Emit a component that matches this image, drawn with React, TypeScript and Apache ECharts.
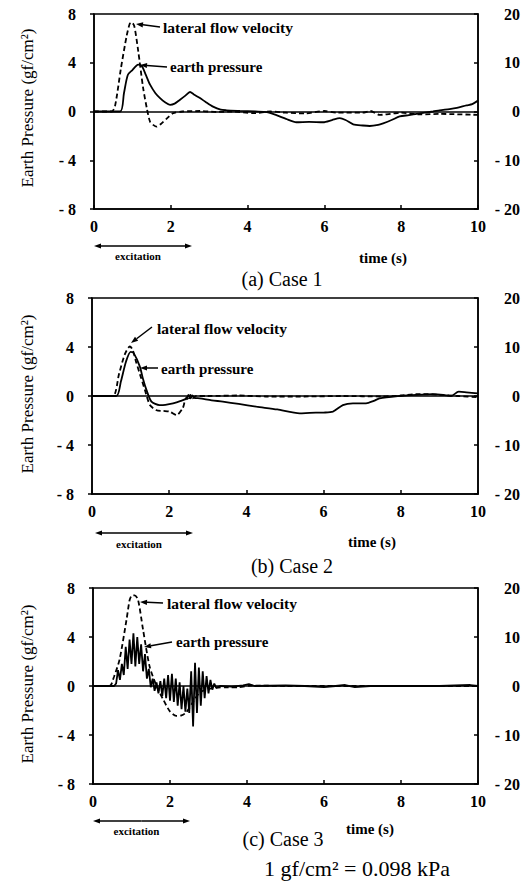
import React, { useEffect, useRef } from "react";
import * as echarts from "echarts";

// ---- axis ticks ----
const timeTicks = [0, 2, 4, 6, 8, 10];
const pressureTicks = [-8, -4, 0, 4, 8];
const velocityTicks = [-20, -10, 0, 10, 20];

// ---- Case 1 ----  [time (s), earth pressure (gf/cm2)]
const case1Pressure = [
  [0, 0], [0.68, 0], [0.78, 1.5], [0.88, 3.0], [1.0, 3.4], [1.15, 3.85], [1.25, 3.7], [1.35, 3.0],
  [1.46, 2.2], [1.6, 1.5], [1.72, 1.1], [1.85, 0.75], [1.98, 0.55], [2.1, 0.65], [2.24, 0.97],
  [2.38, 1.3], [2.5, 1.6], [2.6, 1.4], [2.76, 1.1], [2.9, 0.8], [3.1, 0.4], [3.3, 0.15], [3.45, 0.1],
  [3.8, 0.05], [4.2, 0], [4.5, -0.05], [4.75, -0.3], [5.0, -0.6], [5.27, -0.88], [5.6, -0.85],
  [5.97, -0.88], [6.2, -0.7], [6.4, -0.55], [6.55, -0.7], [6.75, -1.05], [7.0, -1.15], [7.18, -1.19],
  [7.4, -1.1], [7.53, -0.97], [7.75, -0.7], [7.96, -0.4], [8.2, -0.3], [8.4, -0.2], [8.83, 0],
  [9.0, 0.1], [9.26, 0.2], [9.45, 0.3], [9.7, 0.5], [9.85, 0.6], [10, 0.9],
];
// [time (s), lateral flow velocity (right axis)]
const case1Velocity = [
  [0, 0], [0.46, 0], [0.55, 1.2], [0.7, 8.8], [0.85, 15.5], [0.93, 18], [0.98, 18.3], [1.05, 17.5],
  [1.15, 12.5], [1.28, 4.8], [1.38, 0.5], [1.46, -2.1], [1.55, -2.8], [1.63, -3.1], [1.75, -2.5],
  [1.9, -1.4], [2.06, -0.35], [2.3, 0], [2.76, 0.1], [3.2, -0.1], [3.6, 0], [4.15, -0.35], [4.6, 0],
  [5.0, -0.25], [5.5, -0.4], [6.0, 0.1], [6.3, -0.25], [7.0, -0.25], [7.2, 0.1], [7.44, -0.7],
  [7.8, -0.4], [8.0, -0.25], [8.5, -0.6], [9.0, -0.5], [10, -0.7],
];

// ---- Case 2 ----
const case2Pressure = [
  [0, 0], [0.63, 0], [0.75, 1.2], [0.88, 2.8], [1.0, 3.6], [1.08, 3.5], [1.24, 2.4], [1.32, 1.4],
  [1.41, 0.5], [1.54, -0.46], [1.75, -0.74], [1.9, -0.72], [2.1, -0.6], [2.3, -0.4], [2.45, -0.2],
  [2.5, 0.1], [2.55, -0.2], [2.6, 0.05], [2.65, -0.15], [2.79, -0.19], [3.1, -0.35], [3.39, -0.46],
  [3.8, -0.65], [4.26, -0.87], [4.8, -1.1], [5.38, -1.42], [5.64, -1.37], [6.0, -1.35], [6.24, -1.28],
  [6.5, -0.74], [6.76, -0.6], [7.1, -0.6], [7.3, -0.4], [7.45, -0.19], [7.97, 0], [8.4, 0.1],
  [8.83, 0.16], [9.1, 0.1], [9.3, 0], [9.5, 0.35], [9.7, 0.3], [10, 0.22],
];
const case2Velocity = [
  [0, 0], [0.54, 0], [0.7, 4.5], [0.85, 8.5], [0.98, 10.1], [1.05, 9.5], [1.15, 6.75], [1.27, 3.75],
  [1.37, 1.25], [1.5, -1.85], [1.67, -2.9], [1.85, -3.05], [2.01, -3.2], [2.19, -3.9], [2.35, -2.5],
  [2.4, -1.2], [2.45, -0.3], [2.5, -0.9], [2.55, 0.2], [2.6, -0.5], [2.7, 0], [3.0, 0], [3.8, 0.1],
  [4.5, -0.1], [5.5, -0.1], [6.5, 0], [7.5, -0.1], [8.0, 0.1], [8.5, 0.4], [9.0, 0.25], [9.5, 0],
  [10, -0.25],
];

// ---- Case 3 ----
const case3Pressure = [
  [0, 0], [0.55, 0], [0.6, 0.2], [0.65, 1.3], [0.7, 0.5], [0.75, 1.8], [0.8, 0.9], [0.85, 3.2],
  [0.9, 1.4], [0.95, 3.8], [1.0, 1.8], [1.05, 4.3], [1.1, 1.6], [1.15, 4.0], [1.2, 1.8], [1.25, 3.4],
  [1.3, 1.2], [1.35, 2.6], [1.4, 0.6], [1.45, 1.4], [1.5, -0.1], [1.55, 0.6], [1.6, -0.4], [1.65, 0.3],
  [1.7, -0.6], [1.75, 0.4], [1.8, -0.8], [1.85, 0.6], [1.9, -1.0], [1.95, 0.9], [2.0, -1.2],
  [2.05, 1.0], [2.1, -1.3], [2.15, 0.6], [2.2, -1.6], [2.25, 0.3], [2.3, -1.9], [2.35, 0.0],
  [2.4, -2.1], [2.45, -0.2], [2.5, -2.2], [2.55, 1.2], [2.6, -3.3], [2.65, 1.9], [2.7, -2.2],
  [2.75, 1.5], [2.8, -1.6], [2.85, 1.2], [2.9, -1.0], [2.95, 0.8], [3.0, -0.6], [3.05, 0.5],
  [3.1, -0.3], [3.15, 0.2], [3.2, -0.15], [3.3, 0], [3.6, -0.05], [3.9, 0.05], [4.05, 0.15],
  [4.2, 0], [5.0, 0.05], [5.5, 0], [6.0, -0.1], [6.3, 0], [6.55, 0.08], [6.8, -0.1], [7.2, 0],
  [8.0, 0], [9.0, 0], [9.8, 0.08], [10, 0],
];
const case3Velocity = [
  [0, 0], [0.43, 0], [0.55, 2], [0.69, 5.4], [0.87, 13.5], [0.95, 17.5], [1.0, 18.4], [1.08, 18.5],
  [1.17, 17.6], [1.3, 11.5], [1.47, 4], [1.65, 0], [1.82, -2.7], [1.99, -5.1], [2.16, -6.1],
  [2.3, -6], [2.42, -5.4], [2.6, -3.25], [2.77, -1.35], [3.0, -0.6], [3.2, -0.35], [3.5, -0.25],
  [3.8, -0.25], [4.1, 0.1], [5, 0], [10, 0],
];

const captions = ["(a) Case 1", "(b) Case 2", "(c) Case 3"];
const yTitle = "Earth Pressure (gf/cm²)";
const xTitle = "time (s)";
const velocityLabel = "lateral flow velocity";
const pressureLabel = "earth pressure";
const excitationLabel = "excitation";
const unitNote = "1 gf/cm² = 0.098 kPa";

const pressureSets = [case1Pressure, case2Pressure, case3Pressure];
const velocitySets = [case1Velocity, case2Velocity, case3Velocity];

const SERIF = '"Liberation Serif", "DejaVu Serif", serif';

// layout per panel (pixels)
const panels = [
  {
    grid: { left: 94, top: 14, width: 384, height: 195 },
    yTitleY: 108, captionX: 282, captionY: 279, timeX: 383, timeY: 258,
    exY: 246, exX1: 94, exX2: 192, exTextY: 256,
    vText: [163, 27], vArrow: [160, 27, 136, 24],
    pText: [170, 67], pArrow: [167, 67, 140, 65],
  },
  {
    grid: { left: 92, top: 298, width: 386, height: 196 },
    yTitleY: 394, captionX: 292, captionY: 566, timeX: 372, timeY: 542,
    exY: 533, exX1: 95, exX2: 193, exTextY: 544,
    vText: [157, 328], vArrow: [152, 327, 131, 343],
    pText: [161, 369], pArrow: [158, 368, 140, 368],
  },
  {
    grid: { left: 93, top: 588, width: 385, height: 196 },
    yTitleY: 684, captionX: 283, captionY: 839, timeX: 370, timeY: 829,
    exY: 821, exX1: 93, exX2: 190, exTextY: 831,
    vText: [167, 603], vArrow: [163, 603, 140, 602],
    pText: [176, 642], pArrow: [172, 642, 144, 647],
  },
];

function arrow(x1: number, y1: number, x2: number, y2: number): any[] {
  const ang = Math.atan2(y2 - y1, x2 - x1);
  const L = 7, W = 2.6;
  const bx = x2 - L * Math.cos(ang), by = y2 - L * Math.sin(ang);
  const pts = [
    [x2, y2],
    [bx + W * Math.sin(ang), by - W * Math.cos(ang)],
    [bx - W * Math.sin(ang), by + W * Math.cos(ang)],
  ];
  return [
    { type: "line", shape: { x1, y1, x2: bx, y2: by }, style: { stroke: "#000", lineWidth: 1.5 }, silent: true },
    { type: "polygon", shape: { points: pts }, style: { fill: "#000" }, silent: true },
  ];
}

const fmtNeg = (v: number) => (v < 0 ? "- " + Math.abs(v) : String(v));

export default function App() {
  const ref = useRef<HTMLDivElement>(null);
  useEffect(() => {
    if (!ref.current) return;
    const chart = echarts.init(ref.current, undefined, { renderer: "svg" });

    const grids: any[] = [];
    const xAxes: any[] = [];
    const yAxes: any[] = [];
    const series: any[] = [];
    const graphics: any[] = [];

    panels.forEach((p, i) => {
      grids.push({ ...p.grid, show: true, borderColor: "#000", borderWidth: 1.5, backgroundColor: "transparent" });
      xAxes.push({
        type: "value", gridIndex: i, min: timeTicks[0], max: timeTicks[timeTicks.length - 1], interval: 2,
        axisLine: { show: true, onZero: false, lineStyle: { color: "#000", width: 1.5 } },
        axisTick: { show: true, inside: true, length: 4, lineStyle: { color: "#000", width: 1.5 } },
        axisLabel: { color: "#000", fontFamily: SERIF, fontWeight: "bold", fontSize: 16, margin: 9 },
        splitLine: { show: false },
      });
      yAxes.push({
        type: "value", gridIndex: i, min: pressureTicks[0], max: pressureTicks[pressureTicks.length - 1], interval: 4,
        position: "left",
        axisLine: { show: true, onZero: false, lineStyle: { color: "#000", width: 1.5 } },
        axisTick: { show: true, length: 4, lineStyle: { color: "#000", width: 1.5 } },
        axisLabel: { color: "#000", fontFamily: SERIF, fontWeight: "bold", fontSize: 16, margin: 18, formatter: fmtNeg },
        splitLine: { show: false },
      });
      yAxes.push({
        type: "value", gridIndex: i, min: velocityTicks[0], max: velocityTicks[velocityTicks.length - 1], interval: 10,
        position: "right",
        axisLine: { show: true, onZero: false, lineStyle: { color: "#000", width: 1.5 } },
        axisTick: { show: true, inside: true, length: 4, lineStyle: { color: "#000", width: 1.5 } },
        axisLabel: { color: "#000", fontFamily: SERIF, fontWeight: "bold", fontSize: 16, margin: 42, align: "right", formatter: fmtNeg },
        splitLine: { show: false },
      });
      series.push({
        type: "line", xAxisIndex: i, yAxisIndex: i * 2, data: pressureSets[i], showSymbol: false,
        smooth: i === 2 ? false : 0.25,
        lineStyle: { color: "#000", width: 1.8 },
        markLine: {
          silent: true, symbol: "none", label: { show: false },
          lineStyle: { color: "#000", width: 1.5, type: "solid" },
          data: [{ yAxis: 0 }],
        },
      });
      series.push({
        type: "line", xAxisIndex: i, yAxisIndex: i * 2 + 1, data: velocitySets[i], showSymbol: false,
        smooth: 0.25,
        lineStyle: { color: "#000", width: 1.8, type: [5, 3] },
      });

      // y title
      graphics.push({
        type: "text", x: 27, y: p.yTitleY, rotation: Math.PI / 2, silent: true,
        style: { text: yTitle, font: `17px ${SERIF}`, fill: "#000", align: "center", verticalAlign: "middle" },
      });
      // caption
      graphics.push({
        type: "text", x: p.captionX, y: p.captionY, silent: true,
        style: { text: captions[i], font: `20px ${SERIF}`, fill: "#000", align: "center", verticalAlign: "middle" },
      });
      // time (s)
      graphics.push({
        type: "text", x: p.timeX, y: p.timeY, silent: true,
        style: { text: xTitle, font: `bold 15px ${SERIF}`, fill: "#000", align: "center", verticalAlign: "middle" },
      });
      // excitation double arrow
      const mid = (p.exX1 + p.exX2) / 2;
      graphics.push(...arrow(mid, p.exY, p.exX1, p.exY), ...arrow(mid, p.exY, p.exX2, p.exY));
      graphics.push({
        type: "text", x: (p.exX1 + p.exX2) / 2 - 5, y: p.exTextY, silent: true,
        style: { text: excitationLabel, font: `bold 11px ${SERIF}`, fill: "#000", align: "center", verticalAlign: "middle" },
      });
      // annotations
      graphics.push({
        type: "text", x: p.vText[0], y: p.vText[1], silent: true,
        style: { text: velocityLabel, font: `bold 15.5px ${SERIF}`, fill: "#000", align: "left", verticalAlign: "middle" },
      });
      graphics.push(...arrow(p.vArrow[0], p.vArrow[1], p.vArrow[2], p.vArrow[3]));
      graphics.push({
        type: "text", x: p.pText[0], y: p.pText[1], silent: true,
        style: { text: pressureLabel, font: `bold 15px ${SERIF}`, fill: "#000", align: "left", verticalAlign: "middle" },
      });
      graphics.push(...arrow(p.pArrow[0], p.pArrow[1], p.pArrow[2], p.pArrow[3]));
    });

    graphics.push({
      type: "text", x: 357, y: 868, silent: true,
      style: { text: unitNote, font: `22px ${SERIF}`, fill: "#000", align: "center", verticalAlign: "middle" },
    });

    chart.setOption({
      animation: false,
      backgroundColor: "#fff",
      grid: grids,
      xAxis: xAxes,
      yAxis: yAxes,
      series,
      graphic: graphics,
    });
    return () => chart.dispose();
  }, []);

  return <div ref={ref} style={{ position: "absolute", left: 0, top: 0, width: 527, height: 884 }} />;
}
